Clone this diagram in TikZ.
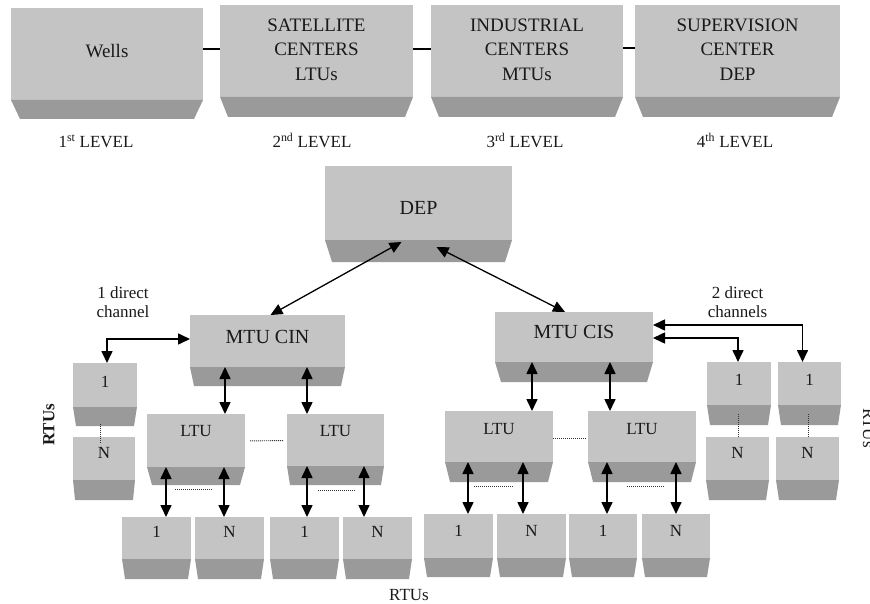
\documentclass[tikz,border=0pt]{standalone}
\usepackage{fontspec}
\setmainfont{Liberation Serif}
\usetikzlibrary{arrows.meta,calc}

\definecolor{facegray}{RGB}{196,196,196}
\definecolor{bevelgray}{RGB}{154,154,154}
\definecolor{inkgray}{RGB}{25,25,25}

\tikzset{
  face/.style={fill=facegray, draw=none, inner sep=0pt, outer sep=0pt},
  boxfont/.style={font=\fontsize{17}{24}\selectfont},
  txt/.style={boxfont, text=inkgray, align=center, inner sep=0pt},
  plain/.style={font=\fontsize{17}{24}\selectfont, text=inkgray, align=center, inner sep=0pt},
  note/.style={font=\fontsize{17}{19}\selectfont, text=inkgray, align=center, inner sep=0pt},
  dbl/.style={{Triangle[width=11pt,length=12pt]}-{Triangle[width=11pt,length=12pt]}, line width=1.6pt, black},
  diag/.style={{Triangle[width=11pt,length=12pt]}-{Triangle[width=11pt,length=12pt]}, line width=1.3pt, black},
  link/.style={line width=1.4pt, black},
  dots/.style={line width=0.9pt, dash pattern=on 1pt off 1pt, black!80}
}

% face rectangle with a bevelled lower band and its caption
% #1 name, #2 x1, #3 y1, #4 x2, #5 face bottom, #6 bevel bottom, #7 inset, #8 text y, #9 text
\newcommand{\bevelbox}[9]{%
  \node[face, minimum width={(#4-#2)*1pt}, minimum height={(#5-#3)*1pt}] (#1) at ({(#2+#4)/2},{(#3+#5)/2}) {};
  \fill[bevelgray] (#1.south west) -- (#1.south east) -- ++(-#7,{#6-#5}) -- ($(#1.south west)+(#7,{#6-#5})$) -- cycle;
  \node[txt] (#1-t) at ({(#2+#4)/2},#8) {#9};
}

\begin{document}
\begin{tikzpicture}[x=1pt,y=-1pt]
\clip (0,0) rectangle (870,604);
\fill[white] (0,0) rectangle (870,604);

% ---- hierarchy levels ----
\tikzset{boxfont/.style={font=\fontsize{19}{24.5}\selectfont}}
\bevelbox{wells}{11}{8}{203}{100}{119}{9}{51}{Wells}
\bevelbox{sat}{220}{5}{413}{97}{117}{8}{49.5}{SATELLITE\\CENTERS\\LTUs}
\bevelbox{ind}{431}{5}{623}{97}{117}{8}{49.5}{INDUSTRIAL\\CENTERS\\MTUs}
\bevelbox{sup}{635}{5}{840}{97}{117}{8}{49.5}{SUPERVISION\\CENTER\\DEP}

\coordinate (la) at (0,49);
\coordinate (lb) at (0,48);
\draw[link] (la -| wells.east) -- (la -| sat.west);
\draw[link] (la -| sat.east) -- (la -| ind.west);
\draw[link] (lb -| ind.east) -- (lb -| sup.west);

\node[plain, anchor=base] (lv1) at (96,148) {1\textsuperscript{st} LEVEL};
\node[plain, anchor=base] (lv2) at (312,148) {2\textsuperscript{nd} LEVEL};
\node[plain, anchor=base] (lv3) at (525,148) {3\textsuperscript{rd} LEVEL};
\node[plain, anchor=base] (lv4) at (735,148) {4\textsuperscript{th} LEVEL};

% ---- network ----
\tikzset{boxfont/.style={font=\fontsize{20}{24}\selectfont}}
\bevelbox{dep}{325}{166}{512}{240}{262}{7}{207.5}{DEP}
\bevelbox{cin}{190}{315}{345}{367}{386}{4}{337}{MTU CIN}
\bevelbox{cis}{495}{312}{653}{362}{382}{6}{332}{MTU CIS}

\tikzset{boxfont/.style={font=\fontsize{17}{24}\selectfont}}
\bevelbox{ra}{73}{363}{137}{407}{426}{3}{382}{1}
\bevelbox{rn}{73}{437}{135}{480}{500}{2}{453}{N}

\bevelbox{ltua}{147}{414}{245}{467}{485}{5}{431.5}{LTU}
\bevelbox{ltub}{287}{414}{384}{466}{485}{3}{431.5}{LTU}
\bevelbox{ltuc}{445}{411}{553}{462}{482}{5}{429}{LTU}
\bevelbox{ltud}{588}{411}{696}{462}{482}{5}{429}{LTU}

\bevelbox{b1}{122}{517}{191}{559}{579}{3}{532}{1}
\bevelbox{b2}{195}{517}{264}{559}{579}{3}{532}{N}
\bevelbox{b3}{270}{517}{339}{559}{579}{3}{532}{1}
\bevelbox{b4}{343}{517}{412}{559}{579}{3}{532}{N}
\bevelbox{b5}{424}{514}{493}{558}{577}{3}{531}{1}
\bevelbox{b6}{497}{514}{566}{558}{577}{3}{531}{N}
\bevelbox{b7}{569}{514}{637}{558}{577}{3}{531}{1}
\bevelbox{b8}{642}{514}{710}{558}{577}{3}{531}{N}

\bevelbox{rc}{707}{362}{771}{405}{425}{3}{380}{1}
\bevelbox{rd}{778}{362}{841}{405}{425}{3}{380}{1}
\bevelbox{re}{706}{437}{769}{480}{500}{3}{453}{N}
\bevelbox{rf}{776}{437}{839}{480}{500}{3}{453}{N}

% captions
\node[note] (one) at (123,302) {1 direct\\channel};
\node[note] (two) at (737.5,302) {2 direct\\channels};
\node[plain, font=\fontsize{17}{24}\selectfont\bfseries, rotate=90] (rtuL) at (49,425) {RTUs};
\node[plain, anchor=base, rotate=-90] (rtuR) at (863,428) {RTUs};
\node[plain, anchor=base] (rtuB) at (409,600) {RTUs};

% DEP links
\draw[diag] ($(dep.south)+(-17,2)$) -- ($(cin.north)+(3,0)$);
\draw[diag] ($(dep.south)+(18,7)$) -- ($(cis.north)+(-9,0)$);

% direct channels
\draw[dbl] ([yshift=2pt]cin.west) -| ([xshift=2pt]ra.north);
\draw[dbl] ([yshift=12pt]cis.east) -| ([xshift=-7pt]rd.north);
\draw[dbl] ([yshift=-1pt]cis.east) -| ([xshift=-1pt]rc.north);

% MTU to LTU
\coordinate (xa) at (225,0);
\coordinate (xb) at (307,0);
\coordinate (xc) at (532,0);
\coordinate (xd) at (610,0);
\draw[dbl] (xa |- cin.south) -- (xa |- ltua.north);
\draw[dbl] (xb |- cin.south) -- (xb |- ltub.north);
\draw[dbl] (xc |- cis.south) -- (xc |- ltuc.north);
\draw[dbl] (xd |- cis.south) -- (xd |- ltud.north);

% LTU to RTU
\coordinate (ya) at (166,0);
\coordinate (yb) at (224,0);
\coordinate (yc) at (307,0);
\coordinate (yd) at (364,0);
\coordinate (ye) at (468,0);
\coordinate (yf) at (523,0);
\coordinate (yg) at (607,0);
\coordinate (yh) at (676,0);
\draw[dbl] (ya |- ltua.south) -- (ya |- b1.north);
\draw[dbl] (yb |- ltua.south) -- (yb |- b2.north);
\draw[dbl] (yc |- ltub.south) -- (yc |- b3.north);
\draw[dbl] (yd |- ltub.south) -- (yd |- b4.north);
\draw[dbl] (ye |- ltuc.south) -- (ye |- b5.north);
\draw[dbl] (yf |- ltuc.south) -- (yf |- b6.north);
\draw[dbl] (yg |- ltud.south) -- (yg |- b7.north);
\draw[dbl] (yh |- ltud.south) -- (yh |- b8.north);

% "and so on" dotted ties
\draw[dots, shorten <=5pt, shorten >=4pt] ([yshift=-0.5pt]ltua.east) -- ([yshift=-0.5pt]ltub.west);
\draw[dots, shorten >=1pt] ([yshift=-1.5pt]ltuc.east) -- ([yshift=-1.5pt]ltud.west);
\draw[dots] ([shift={(-21,22)}]ltua.south) -- ++(38,0);
\draw[dots] ([shift={(-17.5,24)}]ltub.south) -- ++(37,0);
\draw[dots] ([shift={(-25,24)}]ltuc.south) -- ++(39,0);
\draw[dots] ([shift={(-15,24)}]ltud.south) -- ++(38,0);
\draw[dots] ([shift={(-5,17)}]ra.south) -- ++(0,19);
\draw[dots] ([shift={(-1,9)}]rc.south) -- ++(0,23);
\draw[dots] ([shift={(-1.5,9)}]rd.south) -- ++(0,23);
\end{tikzpicture}
\end{document}
